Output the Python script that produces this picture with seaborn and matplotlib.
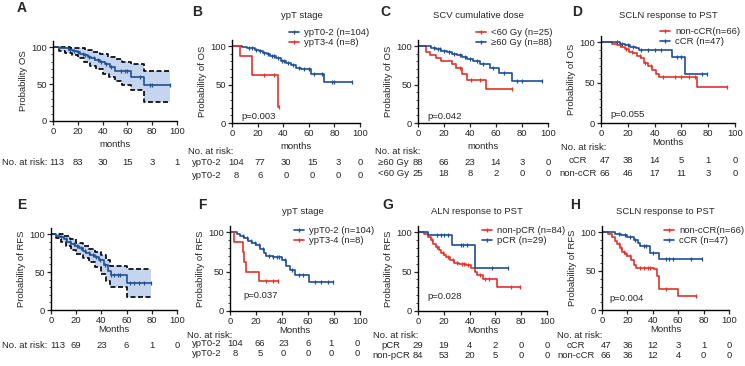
import numpy as np
import pandas as pd
import seaborn as sns
import matplotlib.pyplot as plt
from matplotlib.lines import Line2D
from matplotlib import transforms

# ---------------- data ----------------
month_ticks = [0, 20, 40, 60, 80, 100]

# A: OS, whole cohort (with 95% CI)
os_all_t = [0, 5, 10, 13, 16, 19, 22, 25, 28, 31, 34, 38, 42, 46, 50, 63, 73]
os_all_s = [100, 99, 98, 96, 94, 93, 91, 89, 87, 85, 83, 80, 77, 73, 68, 59, 49]
os_all_end = 94
os_all_cens = [12, 14, 17, 20, 24, 26, 29, 33, 36, 39, 43, 47, 55, 58, 60, 70, 78, 80, 94]
os_up_t = [0, 8, 14, 20, 26, 32, 38, 44, 50, 56, 63, 73]
os_up_s = [100, 100, 99, 98, 96, 93, 90, 87, 84, 80, 77, 68]
os_lo_t = [0, 5, 10, 15, 20, 25, 30, 35, 40, 45, 50, 56, 63, 73]
os_lo_s = [100, 95, 92, 89, 85, 80, 75, 70, 64, 60, 54, 49, 42, 26]
os_all_risk = [113, 83, 30, 15, 3, 1]

# B: OS by ypT stage
os_ypt02_t = [0, 8, 12, 15, 18, 21, 24, 27, 30, 34, 38, 42, 46, 50, 54, 62, 72]
os_ypt02_s = [100, 99, 98, 97, 95, 93, 91, 89, 87, 84, 81, 78, 75, 72, 70, 64, 53]
os_ypt02_end = 94
os_ypt02_cens = [13, 16, 19, 22, 25, 28, 31, 33, 36, 39, 41, 44, 48, 52, 56, 60, 64, 70, 78, 80, 94]
os_ypt34_t = [0, 6, 16, 36]
os_ypt34_s = [100, 87.5, 62.5, 20.8]
os_ypt34_end = 37
os_ypt34_cens = [25, 33, 37]
os_ypt02_risk = [104, 77, 30, 15, 3, 0]
os_ypt34_risk = [8, 6, 0, 0, 0, 0]

# C: OS by SCV cumulative dose
os_lt60_t = [0, 6, 9, 14, 18, 26, 29, 34, 38, 52]
os_lt60_s = [100, 92, 88, 84, 80, 76, 72, 64, 56, 44]
os_lt60_end = 72
os_lt60_cens = [32, 41, 48, 72]
os_ge60_t = [0, 10, 14, 18, 22, 26, 30, 34, 38, 42, 48, 55, 62, 72]
os_ge60_s = [100, 98, 96, 94, 92, 90, 88, 86, 83, 80, 77, 72, 65, 55]
os_ge60_end = 95
os_ge60_cens = [12, 15, 17, 20, 24, 28, 32, 36, 40, 45, 50, 58, 66, 76, 80, 95]
os_ge60_risk = [88, 66, 23, 14, 3, 0]
os_lt60_risk = [25, 18, 8, 2, 0, 0]

# D: OS by SCLN response
os_noncr_t = [0, 8, 12, 15, 18, 21, 24, 27, 30, 32, 35, 38, 41, 43, 72]
os_noncr_s = [100, 98, 96, 94, 91, 88, 86, 83, 80, 74, 70, 66, 61, 57, 44]
os_noncr_end = 94
os_noncr_cens = [14, 19, 23, 29, 33, 37, 46, 55, 60, 66, 70, 94]
os_ccr_t = [0, 14, 18, 22, 26, 28, 53, 63]
os_ccr_s = [100, 98, 96, 94, 92, 90, 81.5, 60]
os_ccr_end = 79
os_ccr_cens = [12, 16, 20, 24, 30, 35, 40, 45, 57, 60, 75, 79]
os_ccr_risk = [47, 38, 14, 5, 1, 0]
os_noncr_risk = [66, 46, 17, 11, 3, 0]

# E: RFS, whole cohort (with 95% CI)
rfs_all_t = [0, 4, 7, 10, 13, 16, 19, 22, 25, 28, 31, 35, 38, 42, 45, 48, 60]
rfs_all_s = [100, 98, 96, 93, 90, 87, 84, 81, 78, 75, 72, 70, 66, 59, 51, 46, 36]
rfs_all_end = 79
rfs_all_cens = [8, 12, 15, 18, 21, 24, 27, 30, 33, 36, 39, 43, 48, 50, 53, 55, 63, 66, 70, 74, 79]
rfs_up_t = [0, 5, 10, 15, 20, 25, 30, 35, 40, 44, 47, 60]
rfs_up_s = [100, 100, 97, 93, 88, 84, 80, 76, 72, 66, 58, 53.5]
rfs_lo_t = [0, 4, 8, 12, 16, 20, 25, 30, 35, 40, 44, 47, 60]
rfs_lo_s = [100, 95, 90, 84, 79, 74, 69, 63, 57, 47, 38, 30, 17.5]
rfs_all_risk = [113, 69, 23, 6, 1, 0]

# F: RFS by ypT stage
rfs_ypt02_t = [0, 5, 8, 11, 14, 17, 20, 23, 26, 28, 33, 40, 43, 46, 50, 61]
rfs_ypt02_s = [100, 98, 95, 92, 89, 86, 83, 79, 74, 69, 68, 64, 57, 52, 46, 37]
rfs_ypt02_end = 79
rfs_ypt02_cens = [10, 13, 16, 19, 22, 25, 30, 33, 36, 38, 42, 48, 53, 56, 65, 70, 75, 79]
rfs_ypt34_t = [0, 3, 10, 11, 12, 22]
rfs_ypt34_s = [100, 87.5, 75, 62.5, 50, 37.5]
rfs_ypt34_end = 37
rfs_ypt34_cens = [28, 33, 37]
rfs_ypt02_risk = [104, 66, 23, 6, 1, 0]
rfs_ypt34_risk = [8, 5, 0, 0, 0, 0]

# G: RFS by ALN response
rfs_pcr_t = [0, 8, 26, 44]
rfs_pcr_s = [100, 96.5, 83, 55]
rfs_pcr_end = 70
rfs_pcr_cens = [15, 18, 20, 23, 33, 35, 38, 57, 70]
rfs_nonpcr_t = [0, 5, 8, 10, 12, 14, 16, 18, 20, 22, 25, 28, 32, 37, 41, 44, 46, 50, 61]
rfs_nonpcr_s = [100, 97, 94, 90, 85, 81, 77, 74, 71, 68, 64, 61, 60, 58, 55, 50, 45, 40, 31]
rfs_nonpcr_end = 79
rfs_nonpcr_cens = [11, 15, 19, 23, 27, 30, 34, 36, 39, 48, 52, 55, 72, 79]
rfs_pcr_risk = [29, 19, 4, 2, 0, 0]
rfs_nonpcr_risk = [84, 53, 20, 5, 0, 0]

# H: RFS by SCLN response
rfs_ccr_t = [0, 10, 15, 20, 25, 28, 30, 38, 45]
rfs_ccr_s = [100, 98, 96, 93, 90, 86, 81.5, 73, 66]
rfs_ccr_end = 79
rfs_ccr_cens = [13, 18, 22, 26, 33, 35, 40, 50, 53, 56, 70, 79]
rfs_noncr_t = [0, 5, 8, 10, 12, 14, 16, 18, 20, 23, 25, 27, 41, 43, 45, 60]
rfs_noncr_s = [100, 97, 93, 88, 84, 79, 75, 72, 69, 64, 58, 54, 52, 43, 27, 18.5]
rfs_noncr_end = 74
rfs_noncr_cens = [13, 15, 17, 19, 22, 30, 33, 36, 38, 50, 74]
rfs_ccr_risk = [47, 36, 12, 3, 1, 0]
rfs_noncr_risk = [66, 36, 12, 4, 0, 0]

# ---------------- styling ----------------
BLUE = "#1f4f91"
RED = "#e2342a"
BAND = "#c5d5ef"
W, H = 745, 366
YTOP = 108
FS = 6.8
LW = 1.2

sns.set_theme(style="ticks")
plt.rcParams['font.family'] = ['Liberation Sans', 'DejaVu Sans']
plt.rcParams['font.size'] = FS

fig = plt.figure(figsize=(W / 100, H / 100), dpi=100)


def make_ax(x0, x100, y0, y100):
    # pixel positions of x=0/100 and y=0/100 in the reference
    hp = (y0 - y100) * YTOP / 100
    ax = fig.add_axes([x0 / W, 1 - y0 / H, (x100 - x0) / W, hp / H])
    ax.set_xlim(0, 100)
    ax.set_ylim(0, YTOP)
    ax.set_xticks(month_ticks)
    ax.set_yticks([0, 50, 100])
    ax.set_yticks(range(0, 101, 10), minor=True)
    ax.tick_params(axis='both', which='major', length=3, width=0.9, labelsize=FS, pad=1.5)
    ax.tick_params(axis='y', which='minor', length=1.5, width=0.6)
    for sp in ['top', 'right']:
        ax.spines[sp].set_visible(False)
    for sp in ['left', 'bottom']:
        ax.spines[sp].set_linewidth(1.0)
        ax.spines[sp].set_color('black')
    return ax


def step_at(t, s, x):
    idx = np.searchsorted(t, x, side='right') - 1
    return np.asarray(s, dtype=float)[idx]


def km(ax, t, s, end, cens, color, lw=LW, ls='-'):
    df = pd.DataFrame({'t': list(t) + [end], 's': list(s) + [s[-1]]})
    sns.lineplot(data=df, x='t', y='s', drawstyle='steps-post', estimator=None,
                 color=color, lw=lw, linestyle=ls, ax=ax)
    if cens:
        sns.scatterplot(x=cens, y=step_at(t, s, cens), marker='|', s=12,
                        color=color, linewidth=0.9, ax=ax)


def ci_band(ax, up_t, up_s, lo_t, lo_s, end):
    grid = np.array(sorted(set(up_t) | set(lo_t) | {end}), dtype=float)
    ax.fill_between(grid, step_at(lo_t, lo_s, grid), step_at(up_t, up_s, grid),
                    step='post', color=BAND, lw=0)
    km(ax, up_t, up_s, end, None, 'black', lw=LW, ls=(0, (3, 1.5)))
    km(ax, lo_t, lo_s, end, None, 'black', lw=LW, ls=(0, (3, 1.5)))


def labels(ax, ylabel, xlabel, xpad=3):
    ax.set_ylabel(ylabel, fontsize=FS, labelpad=2)
    ax.set_xlabel(xlabel, fontsize=FS, labelpad=xpad)


def legend(ax, entries, xpx, ypx):
    handles = [Line2D([0], [0], color=c, lw=LW, marker='|', markersize=2.5) for c, _ in entries]
    ax.legend(handles, [l for _, l in entries], loc='upper left',
              bbox_to_anchor=(xpx / W, 1 - ypx / H), bbox_transform=fig.transFigure,
              frameon=False, fontsize=FS, handlelength=1.1, handletextpad=0.5,
              labelspacing=0.15, borderpad=0, borderaxespad=0)


def ptext(ax, x, y, txt):
    ax.text(x, y, txt, fontsize=FS, ha='left', va='center')


def ftext(xpx, ypx, txt, **kw):
    fig.text(xpx / W, 1 - ypx / H, txt, fontsize=FS, va='center', **kw)


def risk_row(ax, ypx, values, xs=month_ticks):
    tr = transforms.blended_transform_factory(ax.transData, fig.transFigure)
    for x, v in zip(xs, values):
        ax.text(x, 1 - ypx / H, str(v), transform=tr, fontsize=FS, ha='center', va='center')


def panel_letter(xpx, ypx, letter):
    fig.text(xpx / W, 1 - ypx / H, letter, fontsize=10, weight='bold', ha='center', va='center')


# ---------------- A ----------------
ax = make_ax(53, 177, 121, 47)
ci_band(ax, os_up_t, os_up_s, os_lo_t, os_lo_s, os_all_end)
km(ax, os_all_t, os_all_s, os_all_end, os_all_cens, BLUE)
labels(ax, 'Probability OS', 'months')
ftext(2, 163, 'No. at risk:', ha='left')
risk_row(ax, 163, os_all_risk, xs=[3, 20, 40, 60, 80, 100])
panel_letter(22, 8, 'A')

# ---------------- B ----------------
ax = make_ax(232, 360, 123, 46)
km(ax, os_ypt02_t, os_ypt02_s, os_ypt02_end, os_ypt02_cens, BLUE)
km(ax, os_ypt34_t, os_ypt34_s, os_ypt34_end, os_ypt34_cens, RED)
labels(ax, 'Probability of OS', 'months')
ftext(302, 16, 'ypT stage', ha='center')
legend(ax, [(BLUE, 'ypT0-2 (n=104)'), (RED, 'ypT3-4 (n=8)')], 289, 28)
ptext(ax, 7, 9, 'p=0.003')
ftext(188, 151, 'No. at risk:', ha='left')
ftext(222, 163, 'ypT0-2', ha='right')
ftext(222, 175, 'ypT0-2', ha='right')
risk_row(ax, 163, os_ypt02_risk, xs=[3, 22, 42, 63, 83, 100])
risk_row(ax, 175, os_ypt34_risk, xs=[3, 22, 42, 63, 83, 100])
panel_letter(197, 12, 'B')

# ---------------- C ----------------
ax = make_ax(418, 548, 123, 46)
km(ax, os_lt60_t, os_lt60_s, os_lt60_end, os_lt60_cens, RED)
km(ax, os_ge60_t, os_ge60_s, os_ge60_end, os_ge60_cens, BLUE)
labels(ax, 'Probability of OS', 'months')
ftext(478, 15, 'SCV cumulative dose', ha='center')
legend(ax, [(RED, '<60 Gy (n=25)'), (BLUE, '≥60 Gy (n=88)')], 476, 28)
ptext(ax, 7, 9, 'p=0.042')
ftext(375, 151, 'No. at risk:', ha='left')
ftext(409, 162, '≥60 Gy', ha='right')
ftext(409, 173, '<60 Gy', ha='right')
risk_row(ax, 162, os_ge60_risk)
risk_row(ax, 173, os_lt60_risk)
panel_letter(385, 12, 'C')

# ---------------- D ----------------
ax = make_ax(601, 735, 123, 42)
km(ax, os_noncr_t, os_noncr_s, os_noncr_end, os_noncr_cens, RED)
km(ax, os_ccr_t, os_ccr_s, os_ccr_end, os_ccr_cens, BLUE)
labels(ax, 'Probability of OS', 'Months', xpad=0)
ftext(668, 15, 'SCLN response to PST', ha='center')
legend(ax, [(RED, 'non-cCR(n=66)'), (BLUE, 'cCR (n=47)')], 660, 27)
ptext(ax, 7, 10, 'p=0.055')
ftext(561, 148, 'No. at risk:', ha='left')
ftext(578, 160, 'cCR', ha='center')
ftext(578, 173, 'non-cCR', ha='center')
risk_row(ax, 160, os_ccr_risk, xs=[3, 20, 40, 60, 80, 100])
risk_row(ax, 173, os_noncr_risk, xs=[3, 20, 40, 60, 80, 100])
panel_letter(577, 12, 'D')

# ---------------- E ----------------
ax = make_ax(51, 177, 310, 234)
ci_band(ax, rfs_up_t, rfs_up_s, rfs_lo_t, rfs_lo_s, rfs_all_end)
km(ax, rfs_all_t, rfs_all_s, rfs_all_end, rfs_all_cens, BLUE)
labels(ax, 'Probability of RFS', 'Months', xpad=0)
ftext(2, 346, 'No. at risk:', ha='left')
risk_row(ax, 346, rfs_all_risk, xs=[5, 20, 40, 60, 80, 100])
panel_letter(22, 205, 'E')

# ---------------- F ----------------
ax = make_ax(230, 360, 311, 232)
km(ax, rfs_ypt02_t, rfs_ypt02_s, rfs_ypt02_end, rfs_ypt02_cens, BLUE)
km(ax, rfs_ypt34_t, rfs_ypt34_s, rfs_ypt34_end, rfs_ypt34_cens, RED)
labels(ax, 'Probability of RFS', 'Months', xpad=0)
ftext(303, 211, 'ypT stage', ha='center')
legend(ax, [(BLUE, 'ypT0-2 (n=104)'), (RED, 'ypT3-4 (n=8)')], 294, 226)
ptext(ax, 10, 19, 'p=0.037')
ftext(187, 335, 'No. at risk:', ha='left')
ftext(222, 344, 'ypT0-2', ha='right')
ftext(222, 354, 'ypT0-2', ha='right')
risk_row(ax, 344, rfs_ypt02_risk, xs=[4, 23, 41, 60, 78, 98])
risk_row(ax, 354, rfs_ypt34_risk, xs=[4, 23, 41, 60, 78, 98])
panel_letter(202, 205, 'F')

# ---------------- G ----------------
ax = make_ax(418, 547, 311, 232)
km(ax, rfs_nonpcr_t, rfs_nonpcr_s, rfs_nonpcr_end, rfs_nonpcr_cens, RED)
km(ax, rfs_pcr_t, rfs_pcr_s, rfs_pcr_end, rfs_pcr_cens, BLUE)
labels(ax, 'Probability of RFS', 'Months', xpad=0)
ftext(477, 212, 'ALN response to PST', ha='center')
legend(ax, [(RED, 'non-pCR (n=84)'), (BLUE, 'pCR (n=29)')], 482, 226)
ptext(ax, 7, 18, 'p=0.028')
ftext(373, 336, 'No. at risk:', ha='left')
ftext(391, 345, 'pCR', ha='center')
ftext(391, 355, 'non-pCR', ha='center')
risk_row(ax, 345, rfs_pcr_risk)
risk_row(ax, 355, rfs_nonpcr_risk)
panel_letter(388, 205, 'G')

# ---------------- H ----------------
ax = make_ax(602, 729, 310, 232)
km(ax, rfs_noncr_t, rfs_noncr_s, rfs_noncr_end, rfs_noncr_cens, RED)
km(ax, rfs_ccr_t, rfs_ccr_s, rfs_ccr_end, rfs_ccr_cens, BLUE)
labels(ax, 'Probability of RFS', 'Months', xpad=0)
ftext(665, 212, 'SCLN response to PST', ha='center')
legend(ax, [(RED, 'non-cCR(n=66)'), (BLUE, 'cCR (n=47)')], 664, 226)
ptext(ax, 6, 15, 'p=0.004')
ftext(557, 336, 'No. at risk:', ha='left')
ftext(576, 345, 'cCR', ha='center')
ftext(576, 355, 'non-cCR', ha='center')
risk_row(ax, 345, rfs_ccr_risk, xs=[3, 20, 40, 60, 80, 100])
risk_row(ax, 355, rfs_noncr_risk, xs=[3, 20, 40, 60, 80, 100])
panel_letter(575, 205, 'H')

fig.savefig('out.png', dpi=100)
